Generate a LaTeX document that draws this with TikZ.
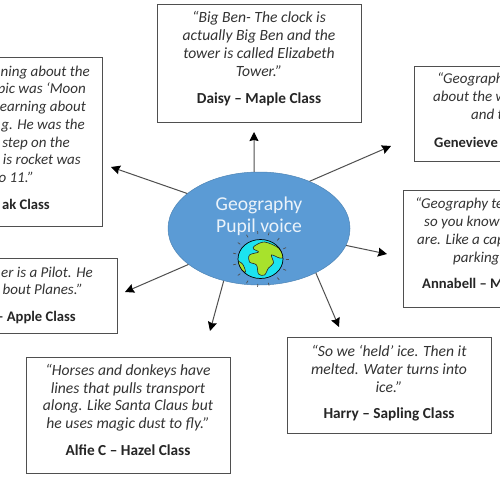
\documentclass[tikz,border=0pt]{standalone}
\usepackage{fontspec}
\setmainfont{Carlito}
\usetikzlibrary{arrows.meta,shapes.geometric}
\definecolor{inkc}{HTML}{333333}
\definecolor{edgec}{HTML}{4F4F4F}
\definecolor{hubc}{HTML}{5B9BD5}
\definecolor{seac}{HTML}{1CE3F0}
\definecolor{landc}{HTML}{A8E22C}
\tikzset{
  qbox/.style={draw=edgec,line width=1pt,fill=white},
  qline/.style={inner sep=0pt,text=inkc,font=\fontsize{15.6}{17}\selectfont\itshape,text height=10pt,text depth=3pt},
  nline/.style={inner sep=0pt,text=black!85,font=\fontsize{15.3}{17}\selectfont\bfseries,text height=10pt,text depth=3pt},
  qedge/.style={qline,font=\fontsize{15}{17}\selectfont\itshape},
  nedge/.style={nline,font=\fontsize{14.6}{17}\selectfont\bfseries},
  hubline/.style={inner sep=0pt,text=white!88!hubc,font=\fontsize{19.6}{22}\selectfont},
  conn/.style={draw=edgec,line width=1pt,-{Stealth[length=9pt,width=9pt,inset=1pt,black]}},
  landshape/.style={fill=landc,draw=black!85,line width=.6pt},
}
\begin{document}
\begin{tikzpicture}[x=1pt,y=-1pt]
\clip (0,0) rectangle (500,500);
\fill[white] (0,0) rectangle (500,500);
% boxes
\draw[qbox] (157,5) rectangle (361,122);
\draw[qbox] (-20,58) rectangle (102,226);
\draw[qbox] (414,66.5) rectangle (520,161);
\draw[qbox] (403,190) rectangle (520,307);
\draw[qbox] (-20,258) rectangle (117,333);
\draw[qbox] (26,357) rectangle (230,473);
\draw[qbox] (287,337) rectangle (491,433);
% top box
\node[qline] (t1) at (259,19.5) {“Big Ben- The clock is};
\node[qline] (t2) at (259,37.5) {actually Big Ben and the};
\node[qline] (t3) at (259,55.5) {tower is called Elizabeth};
\node[qline] (t4) at (259,73.5) {Tower.”};
\node[nline] (t5) at (259,100.5) {Daisy – Maple Class};
% left box
\node[qedge,anchor=east] (l1) at (90,73.5) {ning about the};
\node[qedge,anchor=east] (l2) at (86,90.5) {pic was ‘Moon};
\node[qedge,anchor=east] (l3) at (86,108.5) {earning about};
\node[qedge,anchor=east] (l4) at (85,125.5) {g. He was the};
\node[qedge,anchor=east] (l5) at (70,143.5) {step on the};
\node[qedge,anchor=east] (l6) at (81,160.5) {is rocket was};
\node[qedge,anchor=east] (l7) at (34,178.5) {o 11.”};
\node[nedge,anchor=east] (l8) at (50,205.5) {ak Class};
% right upper box
\node[qedge,anchor=west] (g1) at (437,80.5) {“Geograph};
\node[qedge,anchor=west] (g2) at (433,98.5) {about the w};
\node[qedge,anchor=west] (g3) at (471,116.5) {and t};
\node[nedge,anchor=west] (g4) at (434,143.5) {Genevieve};
% right lower box
\node[qedge,anchor=west] (a1) at (415,204.5) {“Geography te};
\node[qedge,anchor=west] (a2) at (424,222.5) {so you know};
\node[qedge,anchor=west] (a3) at (417,240.5) {are. Like a cap};
\node[qedge,anchor=west] (a4) at (453,258.5) {parking};
\node[nedge,anchor=west] (a5) at (422,284.5) {Annabell – M};
% apple box
\node[qedge,anchor=east] (p1) at (93,273.5) {er is a Pilot. He};
\node[qedge,anchor=east] (p2) at (83,290.5) {bout Planes.”};
\node[nedge,anchor=east] (p3) at (76,317.5) {– Apple Class};
% alfie box
\node[qline] (h1) at (128,371.5) {“Horses and donkeys have};
\node[qline] (h2) at (128,389.5) {lines that pulls transport};
\node[qline] (h3) at (128,406.5) {along. Like Santa Claus but};
\node[qline] (h4) at (128,424.5) {he uses magic dust to fly.”};
\node[nline] (h5) at (128,451.5) {Alfie C – Hazel Class};
% harry box
\node[qline] (s1) at (389,352.5) {“So we ‘held’ ice. Then it};
\node[qline] (s2) at (389,370.5) {melted. Water turns into};
\node[qline] (s3) at (389,388.5) {ice.”};
\node[nline] (s4) at (389,414.5) {Harry – Sapling Class};
% hub
\node[ellipse,fill=hubc,draw=hubc!85!black,line width=.5pt,minimum width=182pt,minimum height=113pt,inner sep=0pt] (hub) at (259,228.5) {};
\node[hubline] (h6) at (259,205) {Geography};
\node[hubline] (h7) at (259,227) {Pupil voice};
% globe
\begin{scope}[shift={(260.5,259)}]
  \foreach \a in {0,24,...,359}{\draw[edgec,line width=.7pt] (\a:25) -- (\a:28);}
  \fill[seac] (0,0) ellipse [x radius=22.5,y radius=19.5];
  \begin{scope}
    \clip (0,0) ellipse [x radius=22.5,y radius=19.5];
    \draw[landshape] plot[smooth cycle,tension=.55] coordinates {(-6,-13) (4,-17) (18,-11) (23,-2) (19,-1) (11,-4) (13,4) (8,9) (4,16) (-2,15) (-4,6) (-11,3) (-11,-4) (-2,-7) (-7,-10)};
    \draw[landshape] plot[smooth cycle,tension=.6] coordinates {(-24,2) (-18,5) (-15,13) (-20,10)};
  \end{scope}
  \draw[black,line width=.7pt] (0,0) ellipse [x radius=22.5,y radius=19.5];
\end{scope}
% arrow ends
\coordinate (e1) at (254,132);
\coordinate (e2) at (391,146);
\coordinate (e3) at (387,254);
\coordinate (e4) at (339,327);
\coordinate (e5) at (210,331);
\coordinate (e6) at (125,292);
\coordinate (e7) at (111,167);
\draw[conn] (hub.95) -- (e1);
\draw[conn] (hub.43) -- (e2);
\draw[conn] (hub.-11) -- (e3);
\draw[conn] (hub.-38.5) -- (e4);
\draw[conn] (hub.236.3) -- (e5);
\draw[conn] (hub.207.2) -- (e6);
\draw[conn] (hub.154.7) -- (e7);
\end{tikzpicture}
\end{document}
